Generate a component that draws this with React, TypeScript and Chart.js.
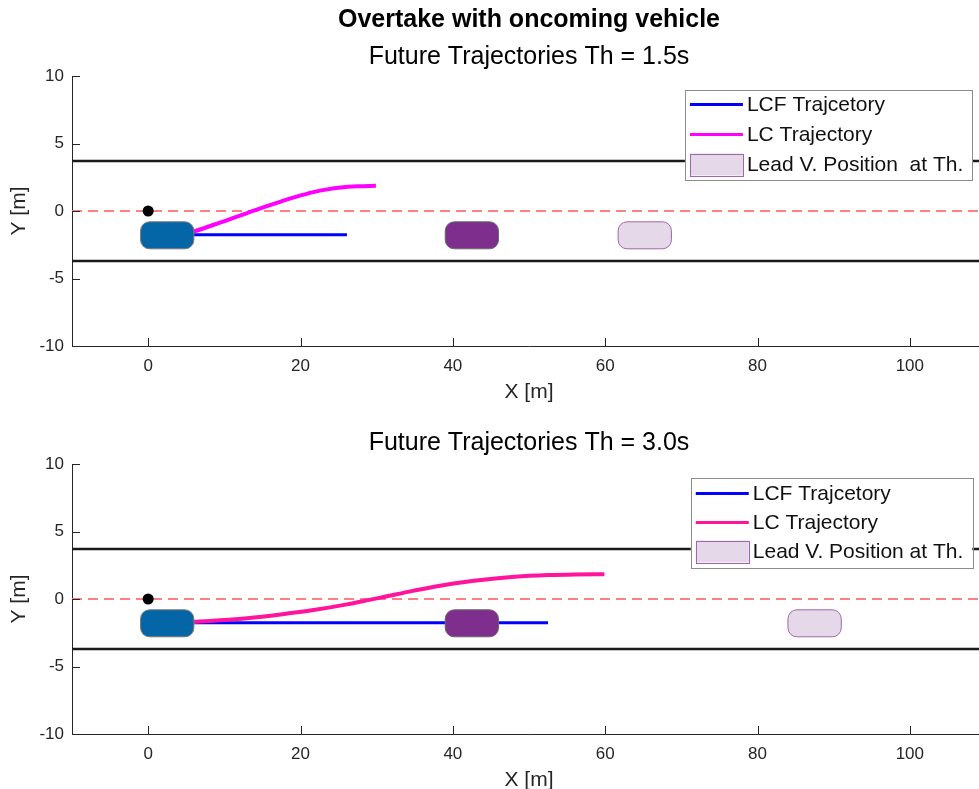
import React, { useEffect, useRef } from 'react';
import { Chart, registerables } from 'chart.js';

Chart.register(...registerables);

const FONT = '"Liberation Sans", Arial, Helvetica, sans-serif';
const AXIS = '#262626';

// ---- axes ----
const xTicks = [0, 20, 40, 60, 80, 100];
const yTicks = [-10, -5, 0, 5, 10];
const xMin = -10;
const xMax = 110;
const yMin = -10;
const yMax = 10;

// ---- road ----
const laneX = [-10, 110];
const laneUpperY = [3.7, 3.7];
const laneLowerY = [-3.7, -3.7];
const centerLineY = [0, 0];
const egoDotX = [0];
const egoDotY = [0];

// ---- vehicles (ego, lead, lead at Th) ----
const vehY0 = -2.8;
const vehY1 = -0.8;
const vehTopX0 = [-1, 39, 61.7];
const vehTopX1 = [6, 46, 68.7];
const vehBotX0 = [-1, 39, 84];
const vehBotX1 = [6, 46, 91];

// ---- Th = 1.5 s ----
const lcfTopX = [3, 26.1];
const lcfTopY = [-1.75, -1.75];
const lcTopX = [3, 5.7, 8.6, 11, 13, 15, 17.4, 19.5, 21.7, 23.5, 25.3, 27.5, 29.9];
const lcTopY = [-1.75, -1.55, -1.02, -0.55, -0.15, 0.25, 0.7, 1.07, 1.4, 1.6, 1.74, 1.83, 1.87];

// ---- Th = 3.0 s ----
const lcfBotX = [3, 52.5];
const lcfBotY = [-1.75, -1.75];
const lcBotX = [3, 5.95, 9.5, 13, 17.4, 21.7, 26.1, 28.7, 30.5, 34.9, 39.3, 43.7, 48.1, 52.5, 56, 59.9];
const lcBotY = [-1.75, -1.7, -1.58, -1.42, -1.14, -0.82, -0.4, -0.1, 0.1, 0.62, 1.08, 1.41, 1.64, 1.77, 1.82, 1.84];

// ---- legend labels ----
const legendTop = ['LCF Trajcetory', 'LC Trajectory', 'Lead V. Position  at Th.'];
const legendBot = ['LCF Trajcetory', 'LC Trajectory', 'Lead V. Position at Th.'];

const pts = (xs: number[], ys: number[]) => xs.map((v, i) => ({ x: v, y: ys[i] }));

const VEH_STYLE = [
  { fill: '#0466a6', stroke: '#7a7a7a' },
  { fill: '#7e2f8e', stroke: '#6a6a6a' },
  { fill: '#e5d8e9', stroke: '#a066ad' },
];

function roundRectPath(ctx: CanvasRenderingContext2D, x: number, y: number, w: number, h: number, r: number) {
  const rr = Math.min(r, h / 2, w / 2);
  ctx.beginPath();
  ctx.moveTo(x + rr, y);
  ctx.lineTo(x + w - rr, y);
  ctx.arcTo(x + w, y, x + w, y + rr, rr);
  ctx.lineTo(x + w, y + h - rr);
  ctx.arcTo(x + w, y + h, x + w - rr, y + h, rr);
  ctx.lineTo(x + rr, y + h);
  ctx.arcTo(x, y + h, x, y + h - rr, rr);
  ctx.lineTo(x, y + rr);
  ctx.arcTo(x, y, x + rr, y, rr);
  ctx.closePath();
}

const overlayPlugin = {
  id: 'overlay',
  afterDatasetsDraw(chart: any, _args: any, opts: any) {
    const { ctx, chartArea } = chart;
    const xs = chart.scales.x;
    const ys = chart.scales.y;
    ctx.save();
    // inward ticks
    ctx.strokeStyle = AXIS;
    ctx.lineWidth = 1;
    ctx.beginPath();
    xTicks.forEach((v) => {
      const px = Math.round(xs.getPixelForValue(v)) + 0.5;
      ctx.moveTo(px, chartArea.bottom);
      ctx.lineTo(px, chartArea.bottom - 8);
    });
    yTicks.forEach((v) => {
      const py = Math.round(ys.getPixelForValue(v)) + 0.5;
      ctx.moveTo(chartArea.left, py);
      ctx.lineTo(chartArea.left + 8, py);
    });
    ctx.stroke();
    // vehicles
    ctx.beginPath();
    ctx.rect(chartArea.left, chartArea.top, chartArea.right - chartArea.left, chartArea.bottom - chartArea.top);
    ctx.clip();
    const x0s: number[] = opts.vehX0;
    const x1s: number[] = opts.vehX1;
    x0s.forEach((v, i) => {
      const l = xs.getPixelForValue(v);
      const r = xs.getPixelForValue(x1s[i]);
      const t = ys.getPixelForValue(vehY1);
      const b = ys.getPixelForValue(vehY0);
      roundRectPath(ctx, l, t, r - l, b - t, 9);
      ctx.fillStyle = VEH_STYLE[i].fill;
      ctx.fill();
      ctx.strokeStyle = VEH_STYLE[i].stroke;
      ctx.lineWidth = 1;
      ctx.stroke();
    });
    // ego reference point
    ctx.fillStyle = '#000';
    egoDotX.forEach((v, i) => {
      ctx.beginPath();
      ctx.arc(xs.getPixelForValue(v), ys.getPixelForValue(egoDotY[i]), 5.5, 0, Math.PI * 2);
      ctx.fill();
    });
    ctx.restore();
  },
  afterDraw(chart: any, _args: any, opts: any) {
    const { ctx, chartArea } = chart;
    const labels: string[] = opts.labels;
    ctx.save();
    ctx.font = `21px ${FONT}`;
    const textW = Math.max(...labels.map((l) => ctx.measureText(l).width));
    const padL = 5;
    const sampleW = 53;
    const gap = 4;
    const padR = 9;
    const boxW = padL + sampleW + gap + textW + padR;
    const right = chartArea.right - 13.7;
    const left = right - boxW;
    const top = chartArea.top + opts.topInset;
    const h = opts.boxH;
    ctx.fillStyle = '#ffffff';
    ctx.fillRect(left, top, boxW, h);
    ctx.strokeStyle = '#8c8c8c';
    ctx.lineWidth = 1;
    ctx.strokeRect(Math.round(left) + 0.5, Math.round(top) + 0.5, Math.round(boxW), Math.round(h));
    const colors = [opts.lcfColor, opts.lcColor];
    labels.forEach((lab, i) => {
      const cy = top + opts.firstRow + i * opts.rowH;
      const sx = left + padL;
      if (i < 2) {
        ctx.strokeStyle = colors[i];
        ctx.lineWidth = 3;
        ctx.beginPath();
        ctx.moveTo(sx, cy);
        ctx.lineTo(sx + sampleW, cy);
        ctx.stroke();
      } else {
        ctx.fillStyle = VEH_STYLE[2].fill;
        ctx.fillRect(sx, cy - 11, sampleW, 22);
        ctx.strokeStyle = VEH_STYLE[2].stroke;
        ctx.lineWidth = 1;
        ctx.strokeRect(Math.round(sx) + 0.5, Math.round(cy - 11) + 0.5, sampleW, 22);
      }
      ctx.fillStyle = '#111111';
      ctx.textAlign = 'left';
      ctx.textBaseline = 'middle';
      ctx.fillText(lab, sx + sampleW + gap, cy + 1);
    });
    ctx.restore();
  },
};

function makeConfig(p: any) {
  // Chart.js draws the first dataset on top, so list top-most first.
  return {
    type: 'scatter',
    data: {
      datasets: [
        { data: pts(p.lcX, p.lcY), showLine: true, borderColor: p.lcColor, borderWidth: 4, pointRadius: 0, cubicInterpolationMode: 'monotone' },
        { data: pts(p.lcfX, p.lcfY), showLine: true, borderColor: '#0000ff', borderWidth: 3, pointRadius: 0 },
        { data: pts(laneX, centerLineY), showLine: true, borderColor: '#ff8080', borderWidth: 2, borderDash: [10, 6], pointRadius: 0 },
        { data: pts(laneX, laneUpperY), showLine: true, borderColor: '#1a1a1a', borderWidth: 2.5, pointRadius: 0 },
        { data: pts(laneX, laneLowerY), showLine: true, borderColor: '#1a1a1a', borderWidth: 2.5, pointRadius: 0 },
      ],
    },
    options: {
      animation: false,
      responsive: false,
      maintainAspectRatio: false,
      events: [],
      layout: { padding: { left: 0, right: 4, top: 0, bottom: 0 } },
      plugins: {
        legend: { display: false },
        tooltip: { enabled: false },
        title: p.title,
        subtitle: p.subtitle,
        overlay: p.overlay,
      },
      scales: {
        x: {
          type: 'linear',
          min: xMin,
          max: xMax,
          afterBuildTicks: (s: any) => { s.ticks = xTicks.map((v) => ({ value: v })); },
          afterFit: (s: any) => { s.height = 64; },
          grid: { display: false, drawTicks: false },
          border: { display: true, color: AXIS, width: 1 },
          ticks: { padding: 10, color: AXIS, font: { family: FONT, size: 17 } },
          title: { display: true, text: 'X [m]', color: AXIS, font: { family: FONT, size: 21 }, padding: { top: 0, bottom: 5 } },
        },
        y: {
          type: 'linear',
          min: yMin,
          max: yMax,
          afterBuildTicks: (s: any) => { s.ticks = yTicks.map((v) => ({ value: v })); },
          afterFit: (s: any) => { s.width = 72; },
          grid: { display: false, drawTicks: false },
          border: { display: true, color: AXIS, width: 1 },
          ticks: { padding: 8, color: AXIS, font: { family: FONT, size: 17 } },
          title: { display: true, text: 'Y [m]', color: AXIS, font: { family: FONT, size: 21 }, padding: { top: 7, bottom: 0 } },
        },
      },
    },
    plugins: [overlayPlugin],
  };
}

const topPanel = {
  lcfX: lcfTopX, lcfY: lcfTopY, lcX: lcTopX, lcY: lcTopY, lcColor: '#ff00ff',
  title: { display: true, text: 'Overtake with oncoming vehicle', color: '#000', fullSize: false, font: { family: FONT, size: 25, weight: 'bold' }, padding: { top: 5, bottom: 2 } },
  subtitle: { display: true, text: 'Future Trajectories Th = 1.5s', color: '#000', fullSize: false, font: { family: FONT, size: 25, weight: 'normal' }, padding: { top: 5, bottom: 4 } },
  overlay: { vehX0: vehTopX0, vehX1: vehTopX1, labels: legendTop, lcfColor: '#0000ff', lcColor: '#ff00ff', topInset: 14, boxH: 90, firstRow: 14.5, rowH: 30 },
};

const botPanel = {
  lcfX: lcfBotX, lcfY: lcfBotY, lcX: lcBotX, lcY: lcBotY, lcColor: '#ff149b',
  title: { display: true, text: 'Future Trajectories Th = 3.0s', color: '#000', fullSize: false, font: { family: FONT, size: 25, weight: 'normal' }, padding: { top: 40, bottom: 6 } },
  subtitle: { display: false },
  overlay: { vehX0: vehBotX0, vehX1: vehBotX1, labels: legendBot, lcfColor: '#0000ff', lcColor: '#ff149b', topInset: 13.5, boxH: 89.5, firstRow: 16, rowH: 29 },
};

function Panel({ panel, top }: { panel: any; top: number }) {
  const ref = useRef<HTMLCanvasElement | null>(null);
  useEffect(() => {
    if (!ref.current) return;
    const chart = new Chart(ref.current, makeConfig(panel) as any);
    return () => chart.destroy();
  }, [panel]);
  return (
    <canvas
      ref={ref}
      width={990}
      height={410}
      style={{ position: 'absolute', left: 0, top, width: 990, height: 410, display: 'block' }}
    />
  );
}

export default function App() {
  return (
    <div style={{ position: 'absolute', left: 0, top: 0, width: 979, height: 789, overflow: 'hidden', background: '#fff' }}>
      <Panel panel={topPanel} top={0} />
      <Panel panel={botPanel} top={388} />
    </div>
  );
}
